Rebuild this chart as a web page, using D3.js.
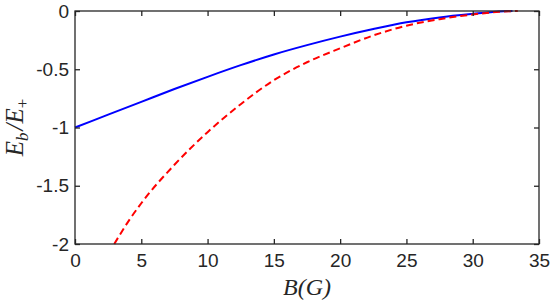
<!DOCTYPE html>
<html>
<head>
<meta charset="utf-8">
<script src="https://cdn.jsdelivr.net/npm/d3@7"></script>
<style>
    body { margin: 0; background: #fff; }
    .axis text { font-family: "Liberation Sans", Arial, sans-serif; font-size: 19px; fill: #262626; }
    .axis path, .axis line { stroke: #262626; stroke-width: 1.3; }
    .lab { font-family: "Liberation Serif", "DejaVu Serif", serif; font-style: italic; fill: #262626; }
</style>
</head>
<body>
<div id="chart"></div>
<script>
var margin = {top: 11, right: 15, bottom: 60, left: 75};
var width = 554 - margin.left - margin.right;
var height = 304 - margin.top - margin.bottom;

// Data: B (G) and E_b/E_+
var bBlue = [0, 2.5, 5, 7.5, 10, 12.5, 15, 17.5, 20, 22.5, 25, 27.5, 30, 32, 33];
var eBlue = [-1, -0.89, -0.78, -0.67, -0.565, -0.465, -0.373, -0.293, -0.22, -0.155, -0.097, -0.055, -0.025, -0.005, 0];
var bRed = [2.96, 4, 5, 7.5, 10, 12.5, 15, 17.5, 20, 22.5, 25, 27.5, 30, 32, 33.4];
var eRed = [-2, -1.81, -1.65, -1.32, -1.04, -0.80, -0.594, -0.44, -0.32, -0.21, -0.126, -0.07, -0.03, -0.007, 0];
var xTicks = [0, 5, 10, 15, 20, 25, 30, 35];
var yTicks = [0, -0.5, -1, -1.5, -2];

var svg = d3.select("#chart").append("svg")
    .attr("width", 554)
    .attr("height", 304)
    .append("g")
    .attr("transform", "translate(" + margin.left + "," + margin.top + ")");

// Scales
var xScale = d3.scaleLinear().domain([0, 35]).range([0, width]);
var yScale = d3.scaleLinear().domain([-2, 0]).range([height, 0]);

// Lines
var line = d3.line()
    .x(function (d) { return xScale(d[0]); })
    .y(function (d) { return yScale(d[1]); })
    .curve(d3.curveMonotoneX);

svg.append("path")
    .datum(d3.zip(bBlue, eBlue))
    .attr("fill", "none")
    .attr("stroke", "#0000ff")
    .attr("stroke-width", 2)
    .attr("d", line);

svg.append("path")
    .datum(d3.zip(bRed, eRed))
    .attr("fill", "none")
    .attr("stroke", "#ff0000")
    .attr("stroke-width", 2)
    .attr("stroke-dasharray", "7,4")
    .attr("d", line);

// Axes, ticks inside on all four sides
svg.append("g")
    .attr("class", "axis")
    .attr("transform", "translate(0," + height + ")")
    .call(d3.axisBottom(xScale).tickValues(xTicks).tickSizeInner(-5).tickSizeOuter(0).tickPadding(10).tickFormat(d3.format("d")));

svg.append("g")
    .attr("class", "axis")
    .call(d3.axisTop(xScale).tickValues(xTicks).tickSizeInner(-5).tickSizeOuter(0).tickFormat(""));

svg.append("g")
    .attr("class", "axis")
    .call(d3.axisLeft(yScale).tickValues(yTicks).tickSizeInner(-5).tickSizeOuter(0).tickPadding(6).tickFormat(function (d) { return d === 0 ? "0" : String(d); }));

svg.append("g")
    .attr("class", "axis")
    .attr("transform", "translate(" + width + ",0)")
    .call(d3.axisRight(yScale).tickValues(yTicks).tickSizeInner(-5).tickSizeOuter(0).tickFormat(""));

svg.selectAll(".axis .domain").remove();
svg.append("rect")
    .attr("width", width)
    .attr("height", height)
    .attr("fill", "none")
    .attr("stroke", "#262626")
    .attr("stroke-width", 1.3);

// Axis labels
svg.append("text")
    .attr("class", "lab")
    .attr("x", width / 2)
    .attr("y", height + 51)
    .attr("text-anchor", "middle")
    .style("font-size", "24px")
    .text("B(G)");

var yl = svg.append("text")
    .attr("class", "lab")
    .attr("transform", "translate(" + (-52) + "," + (height / 2) + ") rotate(-90)")
    .attr("text-anchor", "middle")
    .style("font-size", "25px");
yl.append("tspan").text("E");
yl.append("tspan").attr("dy", 5).style("font-size", "17px").text("b");
yl.append("tspan").attr("dy", -5).attr("dx", 2).text("/E");
yl.append("tspan").attr("dy", 5).style("font-size", "17px").style("font-style", "normal").text("+");
</script>
</body>
</html>
